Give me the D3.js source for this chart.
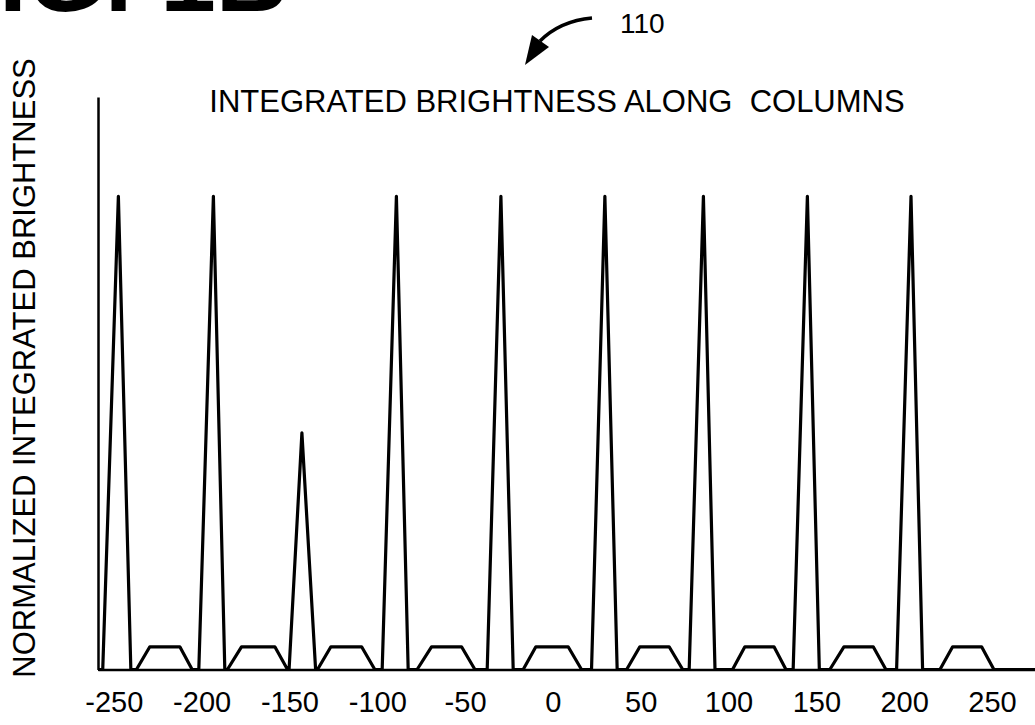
<!DOCTYPE html>
<html>
<head>
<meta charset="utf-8">
<script src="https://cdn.jsdelivr.net/npm/d3@7"></script>
<style>
  body { margin: 0; background: #fff; }
  svg { display: block; }
  text { font-family: "Liberation Sans", Arial, Helvetica, sans-serif; fill: #000; }
</style>
</head>
<body>
<svg id="chart" width="1035" height="725"></svg>
<script>
// Column offset (pixels from image centre) of each vertex of the brightness profile
const columnOffset = [
  -259,
  -256.3, -247.4, -240.3,  -237.1, -229.5, -212.4, -205.4,
  -201.6, -193.3, -186.8,  -185.3, -177.3, -158.3, -151.1,
  -150.2, -142.9, -135.1,  -134.0, -126.4, -108.9, -101.4,
  -97.2,  -89.1,  -82.4,   -77.3,  -69.1,  -52.0,  -44.4,
  -37.4,  -29.6,  -22.6,   -16.9,   -9.7,    8.7,   16.3,
   22.0,   29.6,   36.6,    42.0,   49.5,   66.2,   73.9,
   77.6,   85.7,   92.3,   102.3,  109.3,  125.9,  132.7,
  136.8,  144.9,  151.7,   157.7,  165.7,  182.4,  189.6,
  195.7,  203.9,  210.5,   220.4,  227.6,  244.1,  251.1,
  274.5
];

// Normalized integrated brightness at each vertex
const brightness = [
  0,
  0, 1.00, 0,   0, 0.048, 0.048, 0,
  0, 1.00, 0,   0, 0.048, 0.048, 0,
  0, 0.50, 0,   0, 0.048, 0.048, 0,
  0, 1.00, 0,   0, 0.048, 0.048, 0,
  0, 1.00, 0,   0, 0.048, 0.048, 0,
  0, 1.00, 0,   0, 0.048, 0.048, 0,
  0, 1.00, 0,   0, 0.048, 0.048, 0,
  0, 1.00, 0,   0, 0.048, 0.048, 0,
  0, 1.00, 0,   0, 0.048, 0.048, 0,
  0
];

const xTicks = [-250, -200, -150, -100, -50, 0, 50, 100, 150, 200, 250];

const figureLabel = "FIG. 1B";
const referenceNumeral = "110";
const chartTitle = "INTEGRATED BRIGHTNESS ALONG  COLUMNS";
const yTitle = "NORMALIZED INTEGRATED BRIGHTNESS";

const svg = d3.select("#chart");

const x = d3.scaleLinear().domain([-259, 274.5]).range([98, 1035]);
const y = d3.scaleLinear().domain([0, 1.21]).range([669.5, 97]);

const points = columnOffset.map((c, i) => [c, brightness[i]]);

// X axis: baseline with numeric labels, no tick marks
const xAxis = svg.append("g")
  .attr("transform", `translate(0,${y(0)})`)
  .call(d3.axisBottom(x).tickValues(xTicks).tickSize(0).tickSizeOuter(0).tickFormat(d3.format("d")));
xAxis.select(".domain").attr("stroke", "#000").attr("stroke-width", 2.5);
xAxis.selectAll(".tick text")
  .attr("y", 42.5).attr("dy", 0)
  .style("font-size", "29px")
  .style("font-family", "'Liberation Sans', Arial, sans-serif")
  .attr("fill", "#000")
  .text(d => d < 0 ? "-" + Math.abs(d) : d);

// Y axis: plain vertical line
const yAxis = svg.append("g")
  .attr("transform", `translate(${x(-259)},0)`)
  .call(d3.axisLeft(y).tickValues([]).tickSizeOuter(0));
yAxis.select(".domain").attr("stroke", "#000").attr("stroke-width", 2.5);

// Brightness profile
svg.append("path")
  .datum(points)
  .attr("fill", "none")
  .attr("stroke", "#000")
  .attr("stroke-width", 3.2)
  .attr("stroke-linejoin", "round")
  .attr("d", d3.line().x(d => x(d[0])).y(d => y(d[1])));

// Chart title
svg.append("text")
  .attr("x", 557).attr("y", 112)
  .attr("text-anchor", "middle")
  .style("font-size", "31px")
  .style("white-space", "pre")
  .text(chartTitle);

// Y axis title
svg.append("text")
  .attr("transform", "translate(35,368) rotate(-90)")
  .attr("text-anchor", "middle")
  .style("font-size", "31px")
  .text(yTitle);

// Figure label, running past the top-left page edge
svg.append("text")
  .attr("x", -62).attr("y", 11)
  .style("font-size", "100px")
  .style("font-weight", "bold")
  .text(figureLabel);

// Reference numeral with curved leader arrow
svg.append("text")
  .attr("x", 620).attr("y", 33)
  .style("font-size", "28px")
  .text(referenceNumeral);

svg.append("path")
  .attr("d", "M592,18 Q560,21 540,41")
  .attr("fill", "none")
  .attr("stroke", "#000")
  .attr("stroke-width", 3.5);
svg.append("path")
  .attr("d", "M532,35 L549,47 L525,65 Z")
  .attr("fill", "#000");
</script>
</body>
</html>
